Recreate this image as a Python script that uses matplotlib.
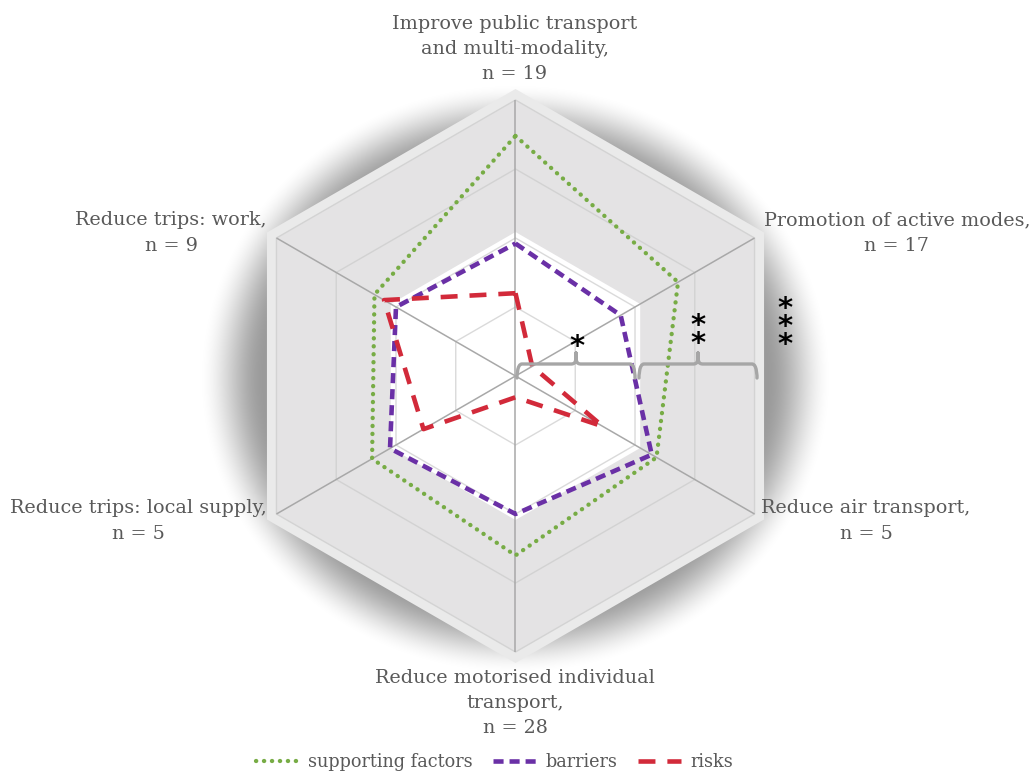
import numpy as np
import matplotlib
matplotlib.use("Agg")
import matplotlib.pyplot as plt
from matplotlib.path import Path
from matplotlib.patches import PathPatch, Polygon
from matplotlib.lines import Line2D

# ---- data -------------------------------------------------------------
categories = [
    "Improve public transport\nand multi-modality,\nn = 19",
    "Promotion of active modes,\nn = 17",
    "Reduce air transport,\nn = 5",
    "Reduce motorised individual\ntransport,\nn = 28",
    "Reduce trips: local supply,\nn = 5",
    "Reduce trips: work,\nn = 9",
]
supporting = [87, 68, 59, 65, 60, 59]
barriers = [48, 44, 57, 50, 52.5, 50]
risks = [30, 7, 36.5, 7.7, 38.5, 55]
series_names = ["supporting factors", "barriers", "risks"]
rings = [25, 50, 75, 100]
rmax = 100
significance = ["*", "**", "***"]

# ---- layout -----------------------------------------------------------
W, H = 1030, 774
CX, CY = 515.5, 376.0          # centre of the web in pixels
S = 276.0                      # pixels per full radius

fig = plt.figure(figsize=(W / 100, H / 100), dpi=100)
ax = fig.add_axes([0, 0, 1, 1])
ax.set_xlim(-CX / S, (W - CX) / S)
ax.set_ylim(-(H - CY) / S, CY / S)
ax.axis("off")

def px(x, y):
    return (x - CX) / S, (CY - y) / S

n = len(categories)
theta = np.deg2rad(90 - 360.0 / n * np.arange(n))

def xy(values, scale=rmax):
    r = np.asarray(values, float) / scale
    return r * np.cos(theta), r * np.sin(theta)

def ring(frac):
    return np.column_stack([frac * np.cos(theta), frac * np.sin(theta)])

# soft round shadow behind the hexagon
gx = np.linspace(-CX / S, (W - CX) / S, 600)
gy = np.linspace(-(H - CY) / S, CY / S, 450)
XX, YY = np.meshgrid(gx, gy)
R = np.hypot(XX * S, (YY + 0.01) * S * 1.07)
t = np.clip((R - 250) / (318 - 250), 0, 1)
sm = t * t * (3 - 2 * t)
alpha = 0.40 * (1 - sm)
img = np.zeros(XX.shape + (4,))
img[..., 3] = alpha
ax.imshow(img, extent=(gx[0], gx[-1], gy[0], gy[-1]), origin="lower",
          interpolation="bilinear", zorder=0, aspect="auto")

# hexagonal plate
ax.add_patch(Polygon(ring(287 / S), closed=True, fc="#eaeaea", ec="none", zorder=1))
ax.add_patch(Polygon(ring(1.0), closed=True, fc="#e4e3e4", ec="#d3d3d3", lw=1.0, zorder=1.1))
ax.add_patch(Polygon(ring(0.5 + 4 / S), closed=True, fc="white", ec="white", lw=2.5, zorder=1.2))

for rv in rings:
    f = rv / rmax
    col = "#dadada" if f <= 0.5 else "#d2d2d2"
    if f < 1:
        ax.add_patch(Polygon(ring(f), closed=True, fc="none", ec=col, lw=1.0, zorder=1.3))

for th in theta:
    ax.plot([0, np.cos(th)], [0, np.sin(th)], color="#a8a8a8", lw=1.1, zorder=1.4,
            solid_capstyle="butt")

# series
styles = [
    dict(color="#77ac45", lw=3.1, dashes=(0.05, 1.8), dash_capstyle="round"),
    dict(color="#6a30a6", lw=3.3, dashes=(2.2, 1.3), dash_capstyle="butt"),
    dict(color="#d22a3a", lw=3.3, dashes=(3.7, 2.6), dash_capstyle="butt"),
]
for vals, st in zip([supporting, barriers, risks], styles):
    x, y = xy(vals)
    ax.plot(np.append(x, x[0]), np.append(y, y[0]), zorder=3,
            solid_joinstyle="miter", **st)

# labels
label_font = dict(family=["DejaVu Serif"], size=13.8, color="#595959")
label_pos = [(515, 49), (897, 233), (866, 521), (515, 703), (138, 521), (171, 233)]
for lab, (lx, ly) in zip(categories, label_pos):
    ax.text(*px(lx, ly), lab, ha="center", va="center", linespacing=1.52,
            zorder=5, **label_font)

# significance braces
def brace(x0, x1, yb, down=14, up=11, rad=5):
    x0, yb0 = px(x0, yb)
    x1, _ = px(x1, yb)
    d, u, r = down / S, up / S, rad / S
    xm = (x0 + x1) / 2
    verts = [
        (x0, yb0 - d), (x0, yb0 - d + r * 0.3), (x0, yb0), (x0 + r, yb0),
        (xm - r, yb0),
        (xm, yb0), (xm, yb0 + u * 0.3), (xm, yb0 + u),
        (xm, yb0 + u * 0.3), (xm, yb0), (xm + r, yb0),
        (x1 - r, yb0),
        (x1, yb0), (x1, yb0 - d + r * 0.3), (x1, yb0 - d),
    ]
    codes = [Path.MOVETO, Path.CURVE4, Path.CURVE4, Path.CURVE4,
             Path.LINETO,
             Path.CURVE4, Path.CURVE4, Path.CURVE4,
             Path.CURVE4, Path.CURVE4, Path.CURVE4,
             Path.LINETO,
             Path.CURVE4, Path.CURVE4, Path.CURVE4]
    ax.add_patch(PathPatch(Path(verts, codes), fc="none", ec="#a6a6a6", lw=2.4,
                           capstyle="round", joinstyle="round", zorder=4))

brace(517, 635, 364)
brace(639, 757, 364)

# stacked asterisks, one text per significance level
star_font = dict(family=["DejaVu Sans"], size=21, color="black", weight="bold")
star_pos = [(577, 347), (698, 335), (785, 327)]
for mark, (sx, sy) in zip(significance, star_pos):
    ax.text(*px(sx, sy), "\n".join(mark), ha="center", va="center",
            linespacing=0.54, zorder=5, **star_font)

# legend
handles = [Line2D([], [], **st) for st in styles]
leg = ax.legend(handles, series_names, loc="lower center", bbox_to_anchor=(0.48, -0.017),
                ncol=3, frameon=False, handlelength=2.4, columnspacing=1.2,
                handletextpad=0.55, prop=dict(family="DejaVu Serif", size=12.7))
for txt in leg.get_texts():
    txt.set_color("#595959")

fig.savefig("out.png", dpi=100, facecolor="white")
